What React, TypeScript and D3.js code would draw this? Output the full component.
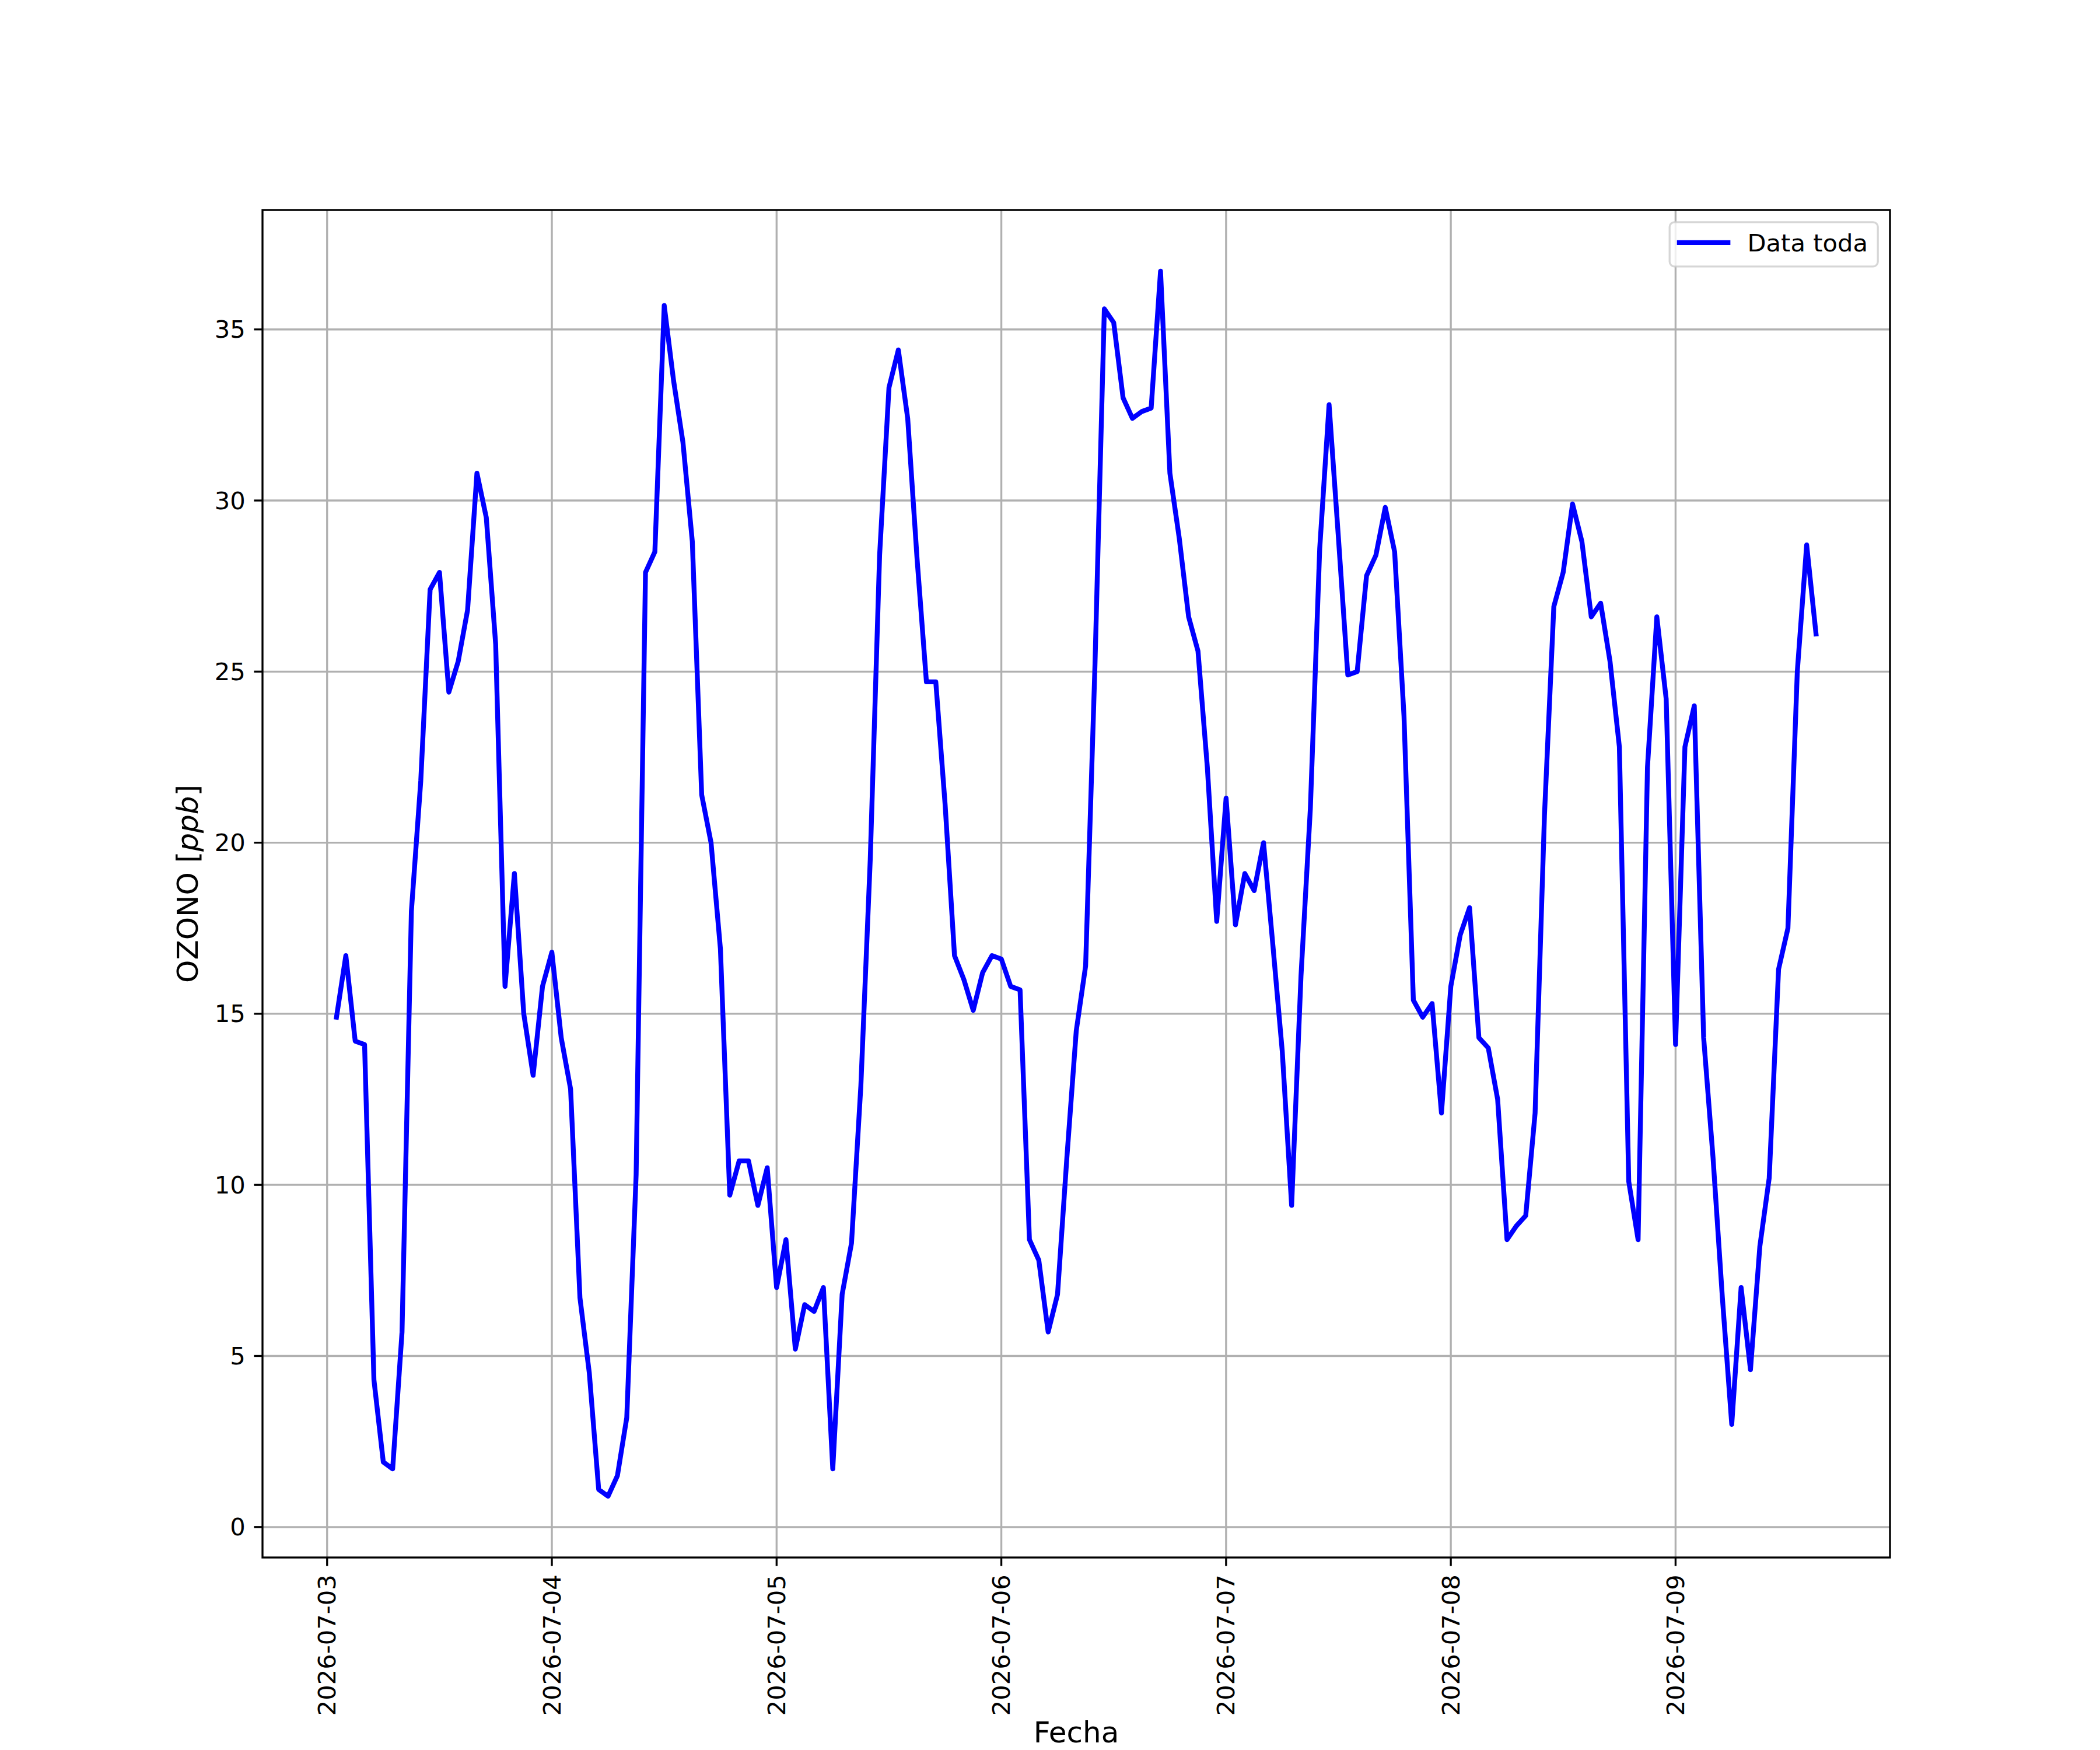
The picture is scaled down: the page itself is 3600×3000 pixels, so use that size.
import React from 'react';
import * as d3 from 'd3';

// hourly ozone readings, one array per day (first day starts at 01:00)
const day03 = [14.9, 16.7, 14.2, 14.1, 4.3, 1.9, 1.7, 5.7, 18.0, 21.8, 27.4, 27.9, 24.4, 25.3, 26.8, 30.8, 29.5, 25.8, 15.8, 19.1, 15.0, 13.2, 15.8];
const day04 = [16.8, 14.3, 12.8, 6.7, 4.5, 1.1, 0.9, 1.5, 3.2, 10.3, 27.9, 28.5, 35.7, 33.5, 31.7, 28.8, 21.4, 20.0, 16.9, 9.7, 10.7, 10.7, 9.4, 10.5];
const day05 = [7.0, 8.4, 5.2, 6.5, 6.3, 7.0, 1.7, 6.8, 8.3, 12.9, 19.5, 28.4, 33.3, 34.4, 32.4, 28.3, 24.7, 24.7, 21.1, 16.7, 16.0, 15.1, 16.2, 16.7];
const day06 = [16.6, 15.8, 15.7, 8.4, 7.8, 5.7, 6.8, 10.8, 14.5, 16.4, 25.2, 35.6, 35.2, 33.0, 32.4, 32.6, 32.7, 36.7, 30.8, 28.9, 26.6, 25.6, 22.2, 17.7];
const day07 = [21.3, 17.6, 19.1, 18.6, 20.0, 17.0, 13.9, 9.4, 16.1, 21.0, 28.6, 32.8, 28.9, 24.9, 25.0, 27.8, 28.4, 29.8, 28.5, 23.7, 15.4, 14.9, 15.3, 12.1];
const day08 = [15.8, 17.3, 18.1, 14.3, 14.0, 12.5, 8.4, 8.8, 9.1, 12.1, 20.8, 26.9, 27.9, 29.9, 28.8, 26.6, 27.0, 25.3, 22.8, 10.1, 8.4, 22.2, 26.6, 24.2];
const day09 = [14.1, 22.8, 24.0, 14.3, 10.8, 6.7, 3.0, 7.0, 4.6, 8.2, 10.2, 16.3, 17.5, 25.0, 28.7, 26.1];

const days = [
  { date: '2026-07-03', firstHour: 1, values: day03 },
  { date: '2026-07-04', firstHour: 0, values: day04 },
  { date: '2026-07-05', firstHour: 0, values: day05 },
  { date: '2026-07-06', firstHour: 0, values: day06 },
  { date: '2026-07-07', firstHour: 0, values: day07 },
  { date: '2026-07-08', firstHour: 0, values: day08 },
  { date: '2026-07-09', firstHour: 0, values: day09 },
];

const dateTicks = ['2026-07-03', '2026-07-04', '2026-07-05', '2026-07-06', '2026-07-07', '2026-07-08', '2026-07-09'];
const yTicks = [0, 5, 10, 15, 20, 25, 30, 35];

const seriesLabel = 'Data toda';
const xLabel = 'Fecha';

interface Point {
  t: Date;
  v: number;
}

const parseDay = d3.timeParse('%Y-%m-%d');

const data: Point[] = days.flatMap(d =>
  d.values.map((v, i) => ({ t: d3.timeHour.offset(parseDay(d.date) as Date, d.firstHour + i), v }))
);

const W = 3600;
const H = 3000;
const margin = { left: 450, right: 3240, top: 360, bottom: 2670 };
const FS = 41.67; // tick / legend text
const LFS = 50; // axis label text
const font = 'DejaVu Sans';

// matplotlib-style 5% padding on both axes
const pad = (lo: number, hi: number) => {
  const r = hi - lo;
  return [lo - r * 0.05, hi + r * 0.05];
};

const App: React.FC = () => {
  const [t0, t1] = d3.extent(data, d => +d.t) as [number, number];
  const [v0, v1] = d3.extent(data, d => d.v) as [number, number];
  const xd = pad(t0, t1);

  const xScale = d3.scaleTime()
    .domain([new Date(xd[0]), new Date(xd[1])])
    .range([margin.left, margin.right]);

  const yScale = d3.scaleLinear()
    .domain(pad(v0, v1))
    .range([margin.bottom, margin.top]);

  const line = d3.line<Point>()
    .x(d => xScale(d.t))
    .y(d => yScale(d.v));

  const tickLen = 14.58;
  const lw = 3.33;

  // legend
  const legX = margin.right - 20.8 - 357;
  const legY = margin.top + 20.8;

  const midY = (margin.top + margin.bottom) / 2;

  return (
    <svg width={W} height={H} viewBox={`0 0 ${W} ${H}`} style={{ position: 'absolute', left: 0, top: 0 }}>
      <rect x={0} y={0} width={W} height={H} fill="#ffffff" />

      {/* grid */}
      <g stroke="#b0b0b0" strokeWidth={lw}>
        {dateTicks.map(d => {
          const x = xScale(parseDay(d) as Date);
          return <line key={d} x1={x} x2={x} y1={margin.top} y2={margin.bottom} />;
        })}
        {yTicks.map(v => (
          <line key={v} x1={margin.left} x2={margin.right} y1={yScale(v)} y2={yScale(v)} />
        ))}
      </g>

      {/* data */}
      <path
        d={line(data) ?? ''}
        fill="none"
        stroke="#0000ff"
        strokeWidth={8.33}
        strokeLinejoin="round"
        strokeLinecap="square"
      />

      {/* spines */}
      <rect
        x={margin.left}
        y={margin.top}
        width={margin.right - margin.left}
        height={margin.bottom - margin.top}
        fill="none"
        stroke="#000000"
        strokeWidth={lw}
      />

      {/* x ticks */}
      <g fontFamily={font} fontSize={FS} fill="#000000">
        {dateTicks.map(d => {
          const x = xScale(parseDay(d) as Date);
          const y = margin.bottom + tickLen + 14.58;
          return (
            <g key={d}>
              <line x1={x} x2={x} y1={margin.bottom} y2={margin.bottom + tickLen} stroke="#000000" strokeWidth={lw} />
              <text
                x={x}
                y={y}
                transform={`rotate(-90, ${x}, ${y})`}
                textAnchor="end"
                dominantBaseline="central"
              >
                {d}
              </text>
            </g>
          );
        })}
      </g>

      {/* y ticks */}
      <g fontFamily={font} fontSize={FS} fill="#000000">
        {yTicks.map(v => {
          const y = yScale(v);
          return (
            <g key={v}>
              <line x1={margin.left - tickLen} x2={margin.left} y1={y} y2={y} stroke="#000000" strokeWidth={lw} />
              <text x={margin.left - tickLen - 14.58} y={y} textAnchor="end" dominantBaseline="central">
                {v}
              </text>
            </g>
          );
        })}
      </g>

      {/* axis labels */}
      <text
        x={(margin.left + margin.right) / 2}
        y={2987}
        textAnchor="middle"
        fontFamily={font}
        fontSize={LFS}
      >
        {xLabel}
      </text>
      <text
        x={339}
        y={midY}
        transform={`rotate(-90, 339, ${midY})`}
        textAnchor="middle"
        fontFamily={font}
        fontSize={LFS}
      >
        OZONO [<tspan fontStyle="italic">ppb</tspan>]
      </text>

      {/* legend */}
      <g>
        <rect
          x={legX}
          y={legY}
          width={357}
          height={76}
          rx={8.3}
          fill="#ffffff"
          fillOpacity={0.8}
          stroke="#cccccc"
          strokeOpacity={0.8}
          strokeWidth={lw}
        />
        <line
          x1={legX + 16.7}
          x2={legX + 16.7 + 83.3}
          y1={legY + 35}
          y2={legY + 35}
          stroke="#0000ff"
          strokeWidth={8.33}
          strokeLinecap="square"
        />
        <text x={legX + 16.7 + 83.3 + 33.3} y={legY + 50} fontFamily={font} fontSize={FS}>
          {seriesLabel}
        </text>
      </g>
    </svg>
  );
};

export default App;
